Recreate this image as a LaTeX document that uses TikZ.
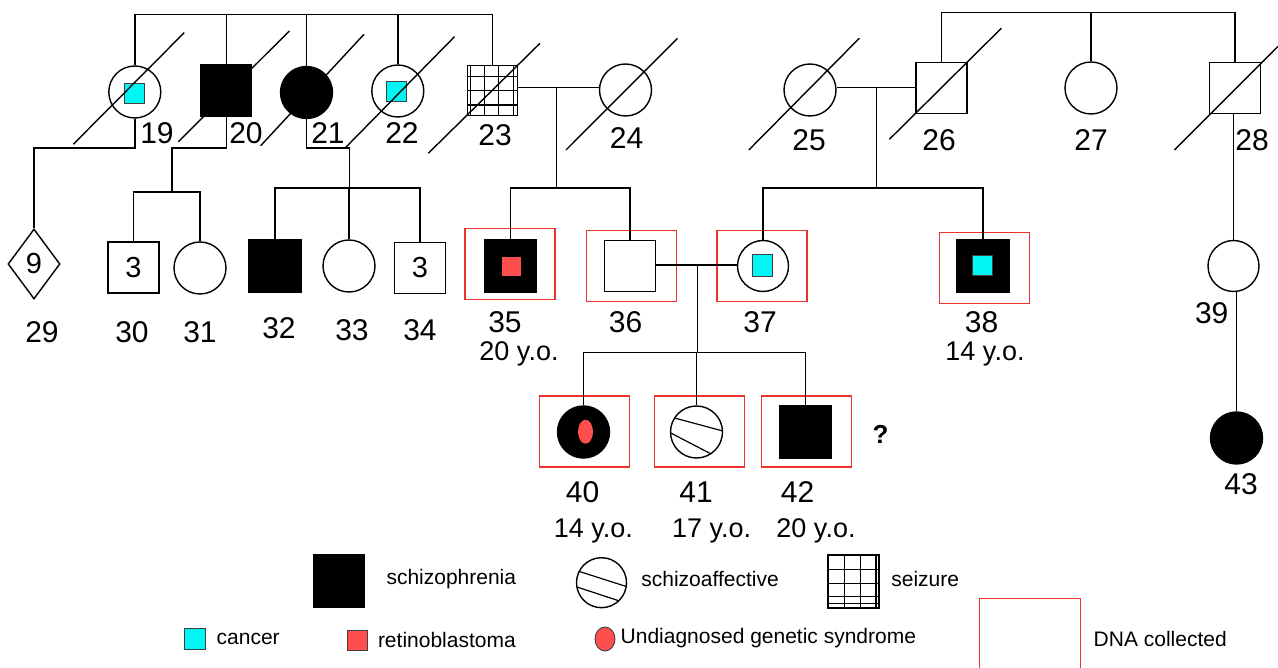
\documentclass[tikz,border=0pt]{standalone}
\usepackage{fontspec}
\setmainfont{Liberation Sans}
\usetikzlibrary{shapes.geometric,calc}
\definecolor{dnared}{RGB}{236,48,42}
\definecolor{retred}{RGB}{255,78,78}
\definecolor{cancercyan}{RGB}{0,245,245}
\begin{document}
\begin{tikzpicture}[x=1pt,y=-1pt, line width=1.4pt,
  male/.style={draw, rectangle, minimum size=51pt, inner sep=0pt},
  female/.style={draw, circle, minimum size=52pt, inner sep=0pt},
  unk/.style={draw, diamond, minimum width=52pt, minimum height=70pt, inner sep=0pt},
  aff/.style={fill=black},
  dna/.style={draw=dnared, rectangle, minimum width=90pt, minimum height=71pt, inner sep=0pt, line width=1.5pt},
  cancerbox/.style={draw=black!75, fill=cancercyan, minimum size=20pt, inner sep=0pt, line width=0.9pt},
  retbox/.style={fill=retred, minimum size=19pt, inner sep=0pt},
  idlab/.style={font=\fontsize{30}{30}\selectfont, inner sep=0pt},
  agelab/.style={font=\fontsize{27}{27}\selectfont, inner sep=0pt},
  leglab/.style={font=\fontsize{21}{21}\selectfont, anchor=west, inner sep=0pt},
  numin/.style={font=\fontsize{29}{29}\selectfont},
  deadline/.style={line width=1.4pt},
  hatchline/.style={line width=1.2pt},
]
\useasboundingbox (0,0) rectangle (1278,668);

% ---------- generation I / II (top) ----------
\node[female] (n19) at (134.8,92) {};
\node[cancerbox] (c19) at (134.5,93) {};
\node[male,aff] (n20) at (226.2,90.5) {};
\node[female,aff] (n21) at (306.5,92.5) {};
\node[female] (n22) at (397.8,91) {};
\node[cancerbox] (c22) at (396.8,91.5) {};
\node[male, minimum size=50pt] (n23) at (492.7,90.5) {};
\foreach \gx in {470.2,484.2,498.3,513.3} \draw[hatchline] (\gx,65.5) -- (\gx,115.5);
\foreach \gy in {76.7,90.7,105} \draw[hatchline] (467.7,\gy) -- (517.7,\gy);
\node[female] (n24) at (625.5,90) {};
\node[female] (n25) at (810,90) {};
\node[male] (n26) at (941.5,88) {};
\node[female] (n27) at (1091,88) {};
\node[male] (n28) at (1235,88) {};

% death slashes
\draw[deadline] (73.3,144.3) -- (184.2,32.7);
\draw[deadline] (178.4,141.7) -- (289.3,31);
\draw[deadline] (260.7,145.7) -- (364,34.3);
\draw[deadline] (345.4,147.7) -- (454.5,36.7);
\draw[deadline] (428.3,153.3) -- (540,43.3);
\draw[deadline] (566,150) -- (677.5,38.3);
\draw[deadline] (748.8,150) -- (859.3,38.3);
\draw[deadline] (889.4,139.3) -- (1001.3,28.3);
\draw[deadline] (1174.4,150) -- (1278,46.4);

% ---------- next generation ----------
\node[unk, numin] (n29) at (34,264) {9};
\node[male, numin] (n30) at (133.5,267.5) {3};
\node[female] (n31) at (200,268) {};
\node[male,aff, minimum size=52pt] (n32) at (275,266) {};
\node[female] (n33) at (349,266) {};
\node[male, numin] (n34) at (420,268) {3};

\node[dna] (f35) at (510,264.2) {};
\node[male,aff, minimum size=52pt] (n35) at (510.6,266) {};
\node[retbox] (r35) at (511.6,267) {};
\node[dna] (f36) at (631.5,266) {};
\node[male] (n36) at (630,266) {};
\node[dna] (f37) at (762,266) {};
\node[female, minimum size=51pt] (n37) at (763,266) {};
\node[cancerbox, minimum height=22pt] (c37) at (762,265) {};
\node[dna] (f38) at (984.4,268) {};
\node[male,aff, minimum size=52pt] (n38) at (982.8,266) {};
\node[cancerbox] (c38) at (982,265) {};

\node[female, minimum size=51pt] (n39) at (1233.5,266) {};
\node[female,aff] (n43) at (1236.5,438) {};

% ---------- youngest generation ----------
\node[dna] (f40) at (584.7,431.7) {};
\node[female,aff] (n40) at (583.5,432) {};
\node[ellipse, fill=retred, minimum width=15pt, minimum height=24pt, inner sep=0pt] (r40) at (585.5,431.7) {};
\node[dna] (f41) at (699.7,431.7) {};
\node[female] (n41) at (696.5,432) {};
\begin{scope}
  \clip (n41.center) circle (26);
  \draw[hatchline] (650,411.4) -- (750,438.3);
  \draw[hatchline] (650,422.2) -- (750,474.2);
\end{scope}
\node[dna] (f42) at (806.7,431.7) {};
\node[male,aff, minimum size=52pt] (n42) at (805.2,432) {};

% ---------- connectors ----------
\coordinate (t1) at (0,14.3);
\draw (n19.north) -- (n19.north |- t1) -- (n23.north |- t1) -- (n23.north);
\foreach \n in {n20,n21,n22} \draw (\n.north) -- (\n.north |- t1);

\coordinate (j19) at (0,148);
\draw (n19.south) -- (n19.south |- j19) -- (n29.north |- j19) -- (n29.north);

\coordinate (s30) at (172,192);
\draw (n20.south) -- (n20.south |- j19) -- (s30 |- j19) -- (s30);
\draw (n30.north) -- (n30.north |- s30) -- (n31.north |- s30) -- (n31.north);

\coordinate (s32) at (349.5,188);
\draw (n21.south) -- (n21.south |- j19) -- (s32 |- j19) -- (s32);
\draw (n32.north) -- (n32.north |- s32) -- (n34.north |- s32) -- (n34.north);
\draw (n33.north) -- (n33.north |- s32);

\coordinate (c1) at (556.4,87.3);
\coordinate (s35) at (556.4,188);
\draw (n23.east |- c1) -- (n24.west |- c1);
\draw (c1) -- (s35);
\draw (n35.north) -- (n35.north |- s35) -- (n36.north |- s35) -- (n36.north);

\coordinate (c2) at (876.3,87.3);
\coordinate (s37) at (876.3,188);
\draw (n25.east |- c2) -- (n26.west |- c2);
\draw (c2) -- (s37);
\draw (n37.north) -- (n37.north |- s37) -- (n38.north |- s37) -- (n38.north);

\coordinate (t2) at (0,12.3);
\draw (n26.north) -- (n26.north |- t2) -- (n28.north |- t2) -- (n28.north);
\draw (n27.north) -- (n27.north |- t2);

\draw (n39.north |- n28.south) -- (n39.north);
\draw (n43.north |- n39.south) -- (n43.north);

\coordinate (c3) at (697.2,265);
\coordinate (s40) at (697.2,352.3);
\draw (n36.east |- c3) -- (n37.west |- c3);
\draw (c3) -- (s40);
\draw (n40.north) -- (n40.north |- s40) -- (n42.north |- s40) -- (n42.north);
\draw (n41.north) -- (n41.north |- s40);

% ---------- labels ----------
\node[idlab] (l19) at (157,133) {19};
\node[idlab] (l20) at (246,133) {20};
\node[idlab] (l21) at (328,133) {21};
\node[idlab] (l22) at (402,133) {22};
\node[idlab] (l23) at (495,135) {23};
\node[idlab] (l24) at (626.6,138) {24};
\node[idlab] (l25) at (809,140) {25};
\node[idlab] (l26) at (939,140) {26};
\node[idlab] (l27) at (1091,140) {27};
\node[idlab] (l28) at (1252,140) {28};
\node[idlab] (l29) at (42,332) {29};
\node[idlab] (l30) at (132,332) {30};
\node[idlab] (l31) at (200,332) {31};
\node[idlab] (l32) at (279,328) {32};
\node[idlab] (l33) at (352,330) {33};
\node[idlab] (l34) at (420,330) {34};
\node[idlab] (l35) at (505,322) {35};
\node[idlab] (l36) at (625.6,322) {36};
\node[idlab] (l37) at (760,322) {37};
\node[idlab] (l38) at (981.5,322) {38};
\node[agelab] (a35) at (519,354) {20 y.o.};
\node[agelab] (a38) at (985,354) {14 y.o.};
\node[idlab] (l39) at (1211.7,313) {39};
\node[idlab] (l43) at (1241,484) {43};
\node[idlab] (l40) at (582.5,492) {40};
\node[idlab] (l41) at (696,492) {41};
\node[idlab] (l42) at (797.5,492) {42};
\node[agelab] (a40) at (593.3,531) {14 y.o.};
\node[agelab] (a41) at (711.7,531) {17 y.o.};
\node[agelab] (a42) at (816,531) {20 y.o.};
\node[font=\fontsize{26}{26}\selectfont\bfseries, inner sep=0pt] (q42) at (880.5,434) {?};

% ---------- legend ----------
\node[male,aff, minimum width=51pt, minimum height=52pt] (lschizo) at (339,581) {};
\node[leglab] (tschizo) at (385.8,579.3) {schizophrenia};
\node[female, minimum size=50pt] (lsa) at (601.5,582.7) {};
\begin{scope}
  \clip (lsa.center) circle (25);
  \draw[hatchline] (570,568.5) -- (635,589.3);
  \draw[hatchline] (570,584.7) -- (635,606.1);
\end{scope}
\node[leglab] (tsa) at (640.7,579) {schizoaffective};
\node[draw, minimum width=51pt, minimum height=53pt, inner sep=0pt] (lseiz) at (853.5,581.5) {};
\foreach \gx in {844.7,860.4,876} \draw[hatchline] (\gx,555) -- (\gx,608);
\foreach \gy in {569.3,583.3,596.7,603.3} \draw[hatchline] (828,\gy) -- (879,\gy);
\node[leglab] (tseiz) at (890.7,579) {seizure};
\node[cancerbox, minimum size=21pt] (lcan) at (194.5,638.8) {};
\node[leglab] (tcan) at (216,639) {cancer};
\node[draw=black!75, fill=retred, minimum size=20pt, inner sep=0pt, line width=0.9pt] (lret) at (357,640) {};
\node[leglab] (tret) at (377.3,640) {retinoblastoma};
\node[draw=black!75, fill=retred, ellipse, minimum width=20pt, minimum height=24pt, inner sep=0pt, line width=0.9pt] (lund) at (605,639) {};
\node[leglab] (tund) at (620,638) {Undiagnosed genetic syndrome};
\draw[draw=dnared, line width=1.5pt] (979.3,672) -- (979.3,598.3) -- (1080.7,598.3) -- (1080.7,672);
\node[leglab] (tdna) at (1093,639.3) {DNA collected};
\end{tikzpicture}
\end{document}
